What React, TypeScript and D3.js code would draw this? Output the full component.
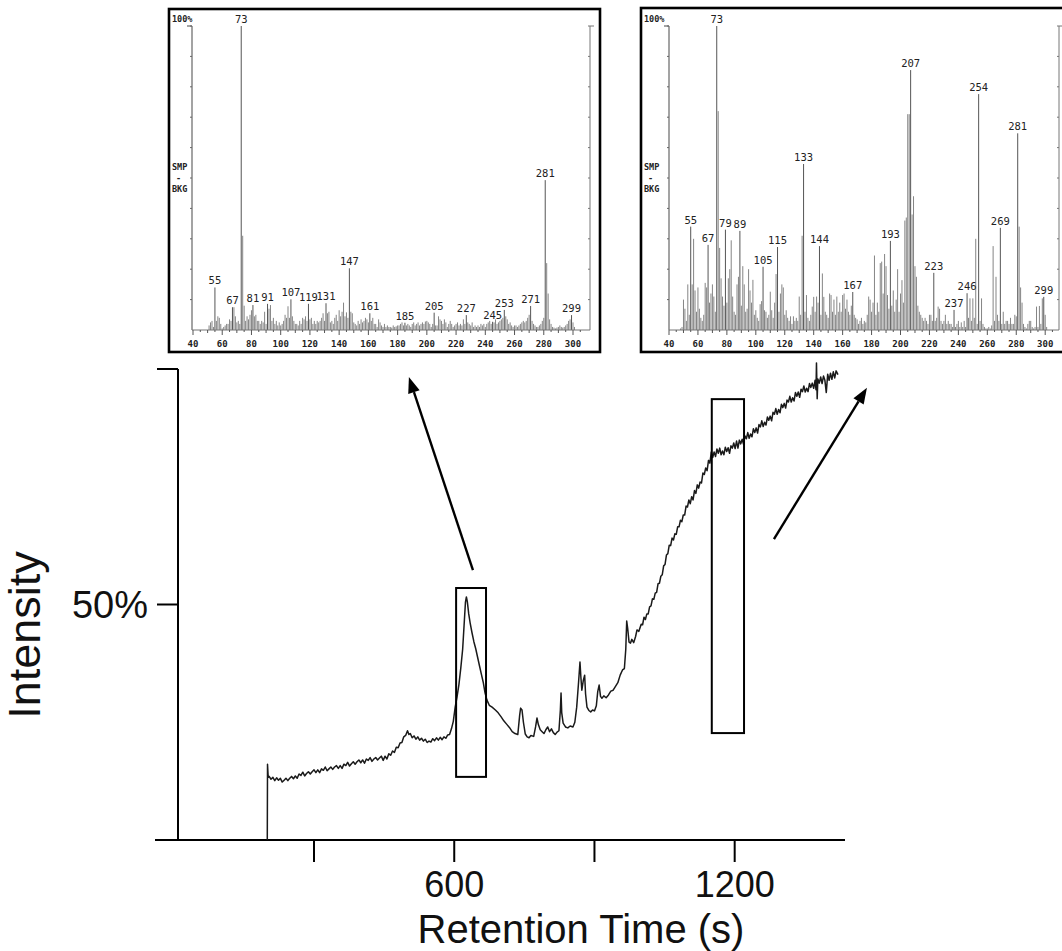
import React from 'react';
import * as d3 from 'd3';

const W = 1062;
const H = 951;

// ---------- Main chromatogram (time s, intensity %) ----------
const CHROM: [number, number][] = [
  [200, 0], [200.5, 16.1], [202, 13.3],
  [204, 13.5], [208, 12.9], [212, 13.3], [216, 12.6], [220, 13.2], [224, 12.7], [228, 13.1], [232, 12.3], [236, 12.7],
  [240, 13.1], [244, 12.6], [248, 13.1], [252, 13.5], [256, 13.0], [260, 13.6], [264, 13.1], [268, 14.0], [272, 13.7],
  [276, 14.4], [280, 13.6], [284, 14.1], [288, 14.5], [292, 14.0], [296, 14.5], [300, 14.9], [304, 14.3], [308, 14.9],
  [312, 14.3], [316, 15.1], [320, 14.8], [324, 15.5], [328, 14.7], [332, 15.1], [336, 15.5], [340, 15.0], [344, 15.5],
  [348, 15.8], [352, 15.2], [356, 15.8], [360, 15.2], [364, 16.1], [368, 15.8], [372, 16.5], [376, 15.7], [380, 16.2],
  [384, 16.6], [388, 16.1], [392, 16.6], [396, 17.0], [400, 16.4], [404, 17.0], [408, 16.3], [412, 17.2], [416, 16.9],
  [420, 17.5], [424, 16.7], [428, 17.2], [432, 17.5], [436, 17.0], [440, 17.4], [444, 17.8], [448, 16.9], [452, 17.8],
  [456, 17.2], [460, 18.3], [464, 18.0], [468, 18.9], [472, 18.6], [476, 19.7], [480, 19.6], [484, 20.6], [488, 20.7],
  [492, 21.9], [496, 22.2], [500, 23.2], [503, 22.4], [506, 22.6], [510, 21.7], [514, 22.1], [518, 21.4], [522, 21.9],
  [526, 21.2], [530, 21.6], [534, 21.0], [538, 21.4], [542, 20.7], [546, 21.0], [550, 20.8], [554, 21.5], [558, 21.1],
  [562, 21.7], [566, 21.2], [570, 21.8], [574, 21.3], [578, 21.9], [582, 21.6], [586, 22.3], [590, 22.4],
  [594, 23.6], [598, 25.2], [602, 28.2], [606, 30.4], [610, 33.0], [614, 36.5], [618, 40.5], [621, 45.5], [624, 50.5],
  [626, 51.6], [628, 50.6], [631, 48.0], [634, 46.1], [638, 44.0], [642, 42.1], [646, 40.6], [650, 38.8], [654, 37.0],
  [658, 35.2], [662, 33.5], [666, 31.2], [670, 29.7], [675, 28.6], [681, 28.2], [688, 27.6], [694, 27.0], [700, 26.2],
  [706, 25.3], [712, 24.6], [718, 23.9], [724, 23.0], [730, 22.6], [736, 22.4], [740, 26.5], [742, 28.0], [745, 27.6],
  [748, 25.0], [752, 22.5], [756, 21.9], [760, 21.7], [764, 22.2], [770, 22.0], [774, 24.0], [777, 25.9], [780, 24.5],
  [784, 23.4], [788, 23.0], [792, 22.6], [796, 23.4], [800, 24.0], [804, 23.0], [808, 23.6], [812, 22.8], [816, 22.4],
  [820, 22.9], [824, 23.2], [827, 27.5], [828.5, 31.2], [830, 27.0], [833, 24.8], [838, 24.0], [843, 23.8], [848, 24.2],
  [854, 24.0], [858, 25.0], [862, 28.2], [866, 33.5], [869, 37.8], [871, 34.5], [873, 31.8], [876, 33.8], [879, 35.0],
  [881, 31.0], [884, 28.2], [888, 27.5], [892, 27.2], [896, 27.6], [900, 27.4], [904, 28.5], [907, 31.5], [910, 32.9],
  [913, 30.5], [916, 30.1], [920, 30.6], [925, 30.2], [930, 30.8], [935, 31.6], [940, 31.8], [945, 32.6], [950, 33.4],
  [955, 35.0], [960, 36.1], [964, 36.4], [967, 40.5], [969, 46.5], [971, 45.0], [974, 42.0], [977, 41.8], [980, 42.6],
  [984, 41.9], [988, 43.2], [991, 44.6], [995, 44.3],
  [1000, 45.8], [1003, 45.7], [1006, 47.3], [1009, 46.8], [1012, 48.0], [1015, 48.0], [1018, 49.5], [1021, 49.7],
  [1024, 51.2], [1027, 51.1], [1030, 52.4], [1033, 52.6], [1036, 54.4], [1039, 54.5], [1042, 56.0], [1045, 56.3],
  [1048, 58.2], [1051, 58.5], [1054, 60.5], [1057, 60.8], [1060, 62.6], [1063, 62.5], [1066, 64.1], [1069, 63.7],
  [1072, 65.0], [1075, 64.9], [1078, 66.5], [1081, 66.5], [1084, 67.9], [1087, 67.6], [1090, 69.0], [1093, 69.0],
  [1096, 70.9], [1099, 70.7], [1102, 72.2], [1105, 71.4], [1108, 72.9], [1111, 72.2], [1114, 74.2], [1117, 73.6],
  [1120, 75.4], [1123, 74.7], [1126, 76.0], [1129, 75.8], [1132, 77.9], [1135, 77.6], [1138, 79.0], [1141, 78.4],
  [1144, 80.6], [1147, 80.0], [1150, 82.4], [1153, 81.2], [1156, 82.4], [1159, 81.4], [1162, 83.0], [1165, 82.1],
  [1168, 83.2], [1171, 81.8], [1174, 82.6], [1177, 81.8], [1180, 83.4], [1183, 82.5], [1186, 83.3], [1189, 82.1],
  [1192, 83.7], [1195, 83.2], [1198, 84.3], [1201, 83.1], [1204, 84.7], [1207, 83.2], [1210, 84.9], [1213, 84.1],
  [1216, 85.1], [1219, 84.0], [1222, 85.8], [1225, 85.2], [1228, 86.5], [1231, 85.3], [1234, 86.2], [1237, 85.6],
  [1240, 87.3], [1243, 86.5], [1246, 87.5], [1249, 86.4], [1252, 88.2], [1255, 87.7], [1258, 89.0], [1261, 87.8],
  [1264, 88.7], [1267, 88.1], [1270, 89.8], [1273, 89.1], [1276, 90.0], [1279, 89.0], [1282, 90.8], [1285, 90.4],
  [1288, 91.6], [1291, 90.4], [1294, 91.4], [1297, 90.7], [1300, 92.5], [1303, 91.8], [1306, 92.7], [1309, 91.7],
  [1312, 93.4], [1315, 93.0], [1318, 94.2], [1321, 93.0], [1324, 93.9], [1327, 93.2], [1330, 95.0], [1333, 94.2],
  [1336, 95.1], [1339, 94.0], [1342, 95.7], [1345, 95.2], [1348, 96.4], [1351, 95.1], [1354, 95.9], [1357, 95.2],
  [1360, 96.9], [1363, 96.1], [1366, 97.0], [1369, 95.9], [1372, 97.6], [1374, 95.6], [1375, 101.3], [1376.5, 93.7],
  [1378, 97.9], [1381, 97.0], [1384, 98.3], [1387, 96.9], [1390, 98.5], [1393, 97.6], [1396, 95.0], [1399, 98.9],
  [1402, 97.6], [1405, 99.1], [1408, 97.8], [1411, 99.4], [1414, 98.1], [1417, 99.6], [1421, 98.8],
];

const X_TICKS = [300, 600, 900, 1200];
const X_TICK_LABELS = ['', '600', '', '1200'];
const Y_TICKS = [50, 100];
const Y_TICK_LABELS = ['50%', ''];

// zoom boxes on the chromatogram (time range, intensity range)
const BOX_T0 = [604, 1151];
const BOX_T1 = [668, 1220];
const BOX_I0 = [13.4, 22.7];
const BOX_I1 = [53.5, 93.6];

// arrows (time, intensity) from -> to
const ARROW_FROM: [number, number][] = [[640, 57.3], [1284, 63.9]];
const ARROW_TO: [number, number][] = [[503, 98.3], [1483, 96.0]];

// ---------- Mass spectra (relative abundance %, m/z from 40) ----------
const MZ_START = 40;
const LEFT_VALUES = [
  0, 0, 0, 0, 0, 0, 0, 0, 0, 0,
  0, 1.5, 2.5, 3, 1, 14, 3, 4.5, 4, 2,
  0.5, 1, 1.5, 2, 2, 3.5, 3, 7.5, 7.5, 4.5,
  2.5, 3, 2, 100, 31, 8, 3, 4.5, 3.5, 5,
  6.5, 8.2, 4.5, 5, 3, 3, 2, 3, 2.5, 6,
  2, 8.6, 7, 8.2, 3, 4, 2, 3, 1.5, 2.5,
  1.5, 2, 3, 5, 4, 7.8, 4, 10.1, 4.5, 3,
  2, 2, 1.5, 3, 2, 4, 3.5, 4.5, 3, 8.6,
  3.5, 4, 2, 3, 2, 3, 2.5, 3, 4, 5.5,
  3, 8.8, 5.5, 6, 2.5, 3, 2, 4, 5, 3,
  6.5, 4.5, 6, 9, 4.5, 5.8, 4, 20.3, 6, 5.5,
  2.5, 2, 1.5, 3, 2, 3.5, 2.5, 3, 4, 3.5,
  2.5, 5.5, 3, 4, 2, 2, 1, 3.5, 2.5, 1.5,
  1, 2, 1, 1.5, 1, 1, 0.8, 1.5, 1, 1.2,
  1.5, 1.5, 2, 2.5, 1.5, 2.4, 1.5, 2, 1.5, 1,
  2, 2.5, 1.5, 2, 2.5, 1.5, 2, 2.5, 2, 2.8,
  3, 2.5, 2, 1, 2, 5.7, 1.5, 1.5, 4.5, 3.5,
  3, 2, 3.5, 2.5, 1, 2, 3, 2, 1, 1.5,
  2, 2.5, 1.5, 2, 1.5, 3.5, 2, 4.9, 2.5, 2,
  1.5, 2.5, 1, 1.5, 1, 1.5, 1, 2, 1.5, 2,
  1, 2, 2.5, 3, 2, 2.7, 2.5, 3.5, 2, 2.5,
  3, 3.5, 4, 6.6, 4.5, 3.5, 2, 2.5, 1.5, 1,
  1.5, 1.5, 1, 1.5, 2, 2.5, 3, 2.5, 3, 4,
  5, 7.9, 3, 2, 1.5, 1, 1, 1.5, 2, 3,
  4, 49.3, 22, 12, 3.5, 2, 1, 0.8, 0.5, 0.8,
  1, 1.5, 1, 0.8, 1, 1.5, 2, 3, 3.5, 4.9,
  2.5, 1,
];
const LEFT_LABELS = [55, 67, 73, 81, 91, 107, 119, 131, 147, 161, 185, 205, 227, 245, 253, 271, 281, 299];

const RIGHT_VALUES = [
  0, 0, 0, 0, 0, 0, 0, 0, 0.5, 1,
  10, 7, 3, 15, 5, 34, 15, 30, 13, 6,
  14, 7, 4, 3, 5, 15.5, 14, 28, 9, 12,
  15, 11, 6, 100, 72, 27, 17, 11, 8, 33,
  9, 17, 20, 29.5, 11, 6, 5, 15, 17.5, 32.6,
  8, 21, 15, 6, 7, 20, 13, 9, 16.5, 5,
  6.5, 4, 3, 8.5, 9.5, 20.8, 6.5, 6, 4, 5,
  12.6, 6.5, 4, 9, 18.4, 27.3, 6, 12, 15, 14,
  5, 6.5, 4, 3, 4.5, 2, 4.5, 3, 4, 3,
  11, 5, 31, 54.6, 6, 11.5, 4, 3, 5, 7.7,
  10.9, 6, 11, 9, 27.6, 5, 18.6, 10.9, 6, 5,
  4, 12, 11.5, 6, 10, 5, 11, 6, 9, 6,
  11.5, 12, 7, 10, 6, 5, 8, 12.5, 5, 4,
  3.5, 2, 3, 4, 2, 3, 2.5, 5, 11, 10,
  6, 9, 24.5, 5, 9, 6, 22, 22.5, 12, 25,
  21, 11.5, 7, 29.3, 8, 13, 6, 10, 20, 6,
  12, 16.4, 9, 36, 37, 71, 71, 85.5, 38, 44,
  21, 17.5, 8, 6, 5, 4, 3, 4, 3, 2,
  5, 5, 3, 18.8, 3, 4, 7.7, 7, 3, 2,
  3, 5, 2, 3, 2, 2, 1, 6.6, 1, 2,
  3, 1, 2.5, 1, 3, 1, 12.1, 4, 10.4, 3,
  10.4, 4, 30, 2, 77.6, 3, 10.4, 2, 1, 0.5,
  0.5, 1, 0.5, 1.5, 27.6, 3, 17.5, 5, 3, 33.6,
  2, 6, 2, 3, 3, 2, 4, 2, 2, 5,
  4.5, 64.7, 34, 14, 9, 2, 1, 0.5, 2, 3,
  3, 1, 0.5, 1, 7.7, 1, 7.9, 2, 10.4, 10.9,
  5, 1, 0,
];
const RIGHT_LABELS = [55, 67, 73, 79, 89, 105, 115, 133, 144, 167, 193, 207, 223, 237, 246, 254, 269, 281, 299];

const INSET_X_TICK_LABELS = [40, 60, 80, 100, 120, 140, 160, 180, 200, 220, 240, 260, 280, 300];
const INSET_Y_TICKS = [10, 20, 30, 40, 50, 60, 70, 80, 90, 100];

const MONO = '"DejaVu Sans Mono", "Liberation Mono", monospace';
const SANS = '"Liberation Sans", Arial, Helvetica, sans-serif';

type InsetProps = {
  frame: { x: number; y: number; w: number; h: number };
  axisLeft: number;
  axisRight: number;
  mzRange: [number, number];
  pxRange: [number, number];
  yTop: number;
  yBottom: number;
  values: number[];
  labels: number[];
};

function Inset(p: InsetProps) {
  const x = d3.scaleLinear().domain(p.mzRange).range(p.pxRange);
  const y = d3.scaleLinear().domain([0, 100]).range([p.yBottom, p.yTop]);
  const minorTicks = d3.range(40, 306, 5);
  const bars = p.values.map((v, i) => ({ mz: MZ_START + i, v })).filter((d) => d.v > 0);
  const labelSet = new Set(p.labels);
  return (
    <g>
      <rect x={p.frame.x} y={p.frame.y} width={p.frame.w} height={p.frame.h} fill="#fff" stroke="#000" strokeWidth={2.6} />
      {bars.map((d) => (
        <line
          key={d.mz}
          x1={x(d.mz)}
          x2={x(d.mz)}
          y1={y(0)}
          y2={y(d.v)}
          stroke={labelSet.has(d.mz) ? '#555' : '#858585'}
          strokeWidth={1}
        />
      ))}
      <line x1={p.axisLeft} x2={p.axisLeft} y1={p.yTop} y2={p.yBottom} stroke="#666" strokeWidth={1.2} />
      <line x1={p.axisLeft - 5} x2={p.axisLeft} y1={p.yTop} y2={p.yTop} stroke="#666" strokeWidth={1.2} />
      {INSET_Y_TICKS.map((t) => (
        <line key={'yl' + t} x1={p.axisLeft - 2} x2={p.axisLeft} y1={y(t)} y2={y(t)} stroke="#666" strokeWidth={1} />
      ))}
      <line x1={p.axisRight} x2={p.axisRight} y1={p.yTop} y2={p.yBottom} stroke="#777" strokeWidth={1} />
      <line x1={p.axisRight} x2={p.axisRight + 4} y1={p.yTop} y2={p.yTop} stroke="#777" strokeWidth={1} />
      {INSET_Y_TICKS.map((t) => (
        <line key={'yr' + t} x1={p.axisRight - 2} x2={p.axisRight} y1={y(t)} y2={y(t)} stroke="#777" strokeWidth={1} />
      ))}
      <line x1={p.axisLeft} x2={p.axisRight} y1={p.yBottom} y2={p.yBottom} stroke="#777" strokeWidth={1} />
      {minorTicks.map((t) => (
        <line
          key={'xt' + t}
          x1={x(t)}
          x2={x(t)}
          y1={p.yBottom}
          y2={p.yBottom + (t % 20 === 0 ? 5 : t % 10 === 0 ? 3 : 2)}
          stroke="#555"
          strokeWidth={1}
        />
      ))}
      {INSET_X_TICK_LABELS.map((t) => (
        <text key={'xl' + t} x={x(t)} y={p.yBottom + 17} fontFamily={MONO} fontSize={9} fontWeight="bold" textAnchor="middle" fill="#222">
          {t}
        </text>
      ))}
      <text x={p.frame.x + 3} y={p.yTop - 4} fontFamily={MONO} fontSize={8.5} fontWeight="bold" fill="#222">100%</text>
      <text x={p.frame.x + 3} y={p.yTop + 144} fontFamily={MONO} fontSize={8.5} fontWeight="bold" fill="#222">SMP</text>
      <text x={p.frame.x + 7} y={p.yTop + 155} fontFamily={MONO} fontSize={8.5} fontWeight="bold" fill="#222">-</text>
      <text x={p.frame.x + 3} y={p.yTop + 166} fontFamily={MONO} fontSize={8.5} fontWeight="bold" fill="#222">BKG</text>
      {p.labels.map((m) => (
        <text
          key={'pl' + m}
          x={x(m)}
          y={y(p.values[m - MZ_START]) - 3}
          fontFamily={MONO}
          fontSize={10.5}
          textAnchor="middle"
          fill="#222"
        >
          {m}
        </text>
      ))}
    </g>
  );
}

export default function App() {
  const x = d3.scaleLinear().domain([0, 1500]).range([173.8, 874.9]);
  const y = d3.scaleLinear().domain([0, 100]).range([840, 369]);
  const line = d3
    .line<[number, number]>()
    .x((d) => x(d[0]))
    .y((d) => y(d[1]));

  const axisX = x(0) + 4.2;
  const arrows = ARROW_FROM.map((f, i) => {
    const t = ARROW_TO[i];
    const x1 = x(f[0]);
    const y1 = y(f[1]);
    const x2 = x(t[0]);
    const y2 = y(t[1]);
    const ang = Math.atan2(y2 - y1, x2 - x1);
    const len = 16;
    const half = 6;
    const bx = x2 - len * Math.cos(ang);
    const by = y2 - len * Math.sin(ang);
    const px = -Math.sin(ang) * half;
    const py = Math.cos(ang) * half;
    return { x1, y1, bx, by, head: `${x2},${y2} ${bx + px},${by + py} ${bx - px},${by - py}` };
  });

  return (
    <svg width={W} height={H} style={{ position: 'absolute', left: 0, top: 0, background: '#fff' }}>
      <rect x={0} y={0} width={W} height={H} fill="#fff" />

      <Inset
        frame={{ x: 169, y: 9, w: 431, h: 343 }}
        axisLeft={192}
        axisRight={590}
        mzRange={[40, 300]}
        pxRange={[193, 573]}
        yTop={26}
        yBottom={330}
        values={LEFT_VALUES}
        labels={LEFT_LABELS}
      />
      <Inset
        frame={{ x: 641, y: 8, w: 425, h: 344 }}
        axisLeft={669}
        axisRight={1059}
        mzRange={[40, 300]}
        pxRange={[669, 1045.2]}
        yTop={26}
        yBottom={330}
        values={RIGHT_VALUES}
        labels={RIGHT_LABELS}
      />

      <line x1={axisX} x2={axisX} y1={y(100)} y2={y(0)} stroke="#000" strokeWidth={2} />
      <line x1={155} x2={845} y1={y(0)} y2={y(0)} stroke="#000" strokeWidth={2} />
      {Y_TICKS.map((t, i) => (
        <g key={'yt' + t}>
          <line x1={axisX - 21} x2={axisX} y1={y(t)} y2={y(t)} stroke="#000" strokeWidth={2} />
          {Y_TICK_LABELS[i] && (
            <text x={148} y={y(t)} dy="0.36em" textAnchor="end" fontFamily={SANS} fontSize={38} fill="#111">
              {Y_TICK_LABELS[i]}
            </text>
          )}
        </g>
      ))}
      {X_TICKS.map((t, i) => (
        <g key={'xt' + t}>
          <line x1={x(t)} x2={x(t)} y1={y(0)} y2={y(0) + 22} stroke="#000" strokeWidth={2} />
          {X_TICK_LABELS[i] && (
            <text x={x(t)} y={897} textAnchor="middle" fontFamily={SANS} fontSize={36} fill="#111">
              {X_TICK_LABELS[i]}
            </text>
          )}
        </g>
      ))}
      <text x={581} y={943} textAnchor="middle" fontFamily={SANS} fontSize={40} fill="#111">
        Retention Time (s)
      </text>
      <text transform={`translate(40, 635) rotate(-90)`} textAnchor="middle" fontFamily={SANS} fontSize={45} fill="#111">
        Intensity
      </text>

      <path d={line(CHROM) || ''} fill="none" stroke="#1a1a1a" strokeWidth={1.5} strokeLinejoin="round" />

      {BOX_T0.map((t0, i) => (
        <rect
          key={'box' + i}
          x={x(t0)}
          y={y(BOX_I1[i])}
          width={x(BOX_T1[i]) - x(t0)}
          height={y(BOX_I0[i]) - y(BOX_I1[i])}
          fill="none"
          stroke="#000"
          strokeWidth={2}
        />
      ))}

      {arrows.map((a, i) => (
        <g key={'ar' + i}>
          <line x1={a.x1} y1={a.y1} x2={a.bx} y2={a.by} stroke="#000" strokeWidth={2.4} />
          <polygon points={a.head} fill="#000" />
        </g>
      ))}
    </svg>
  );
}
